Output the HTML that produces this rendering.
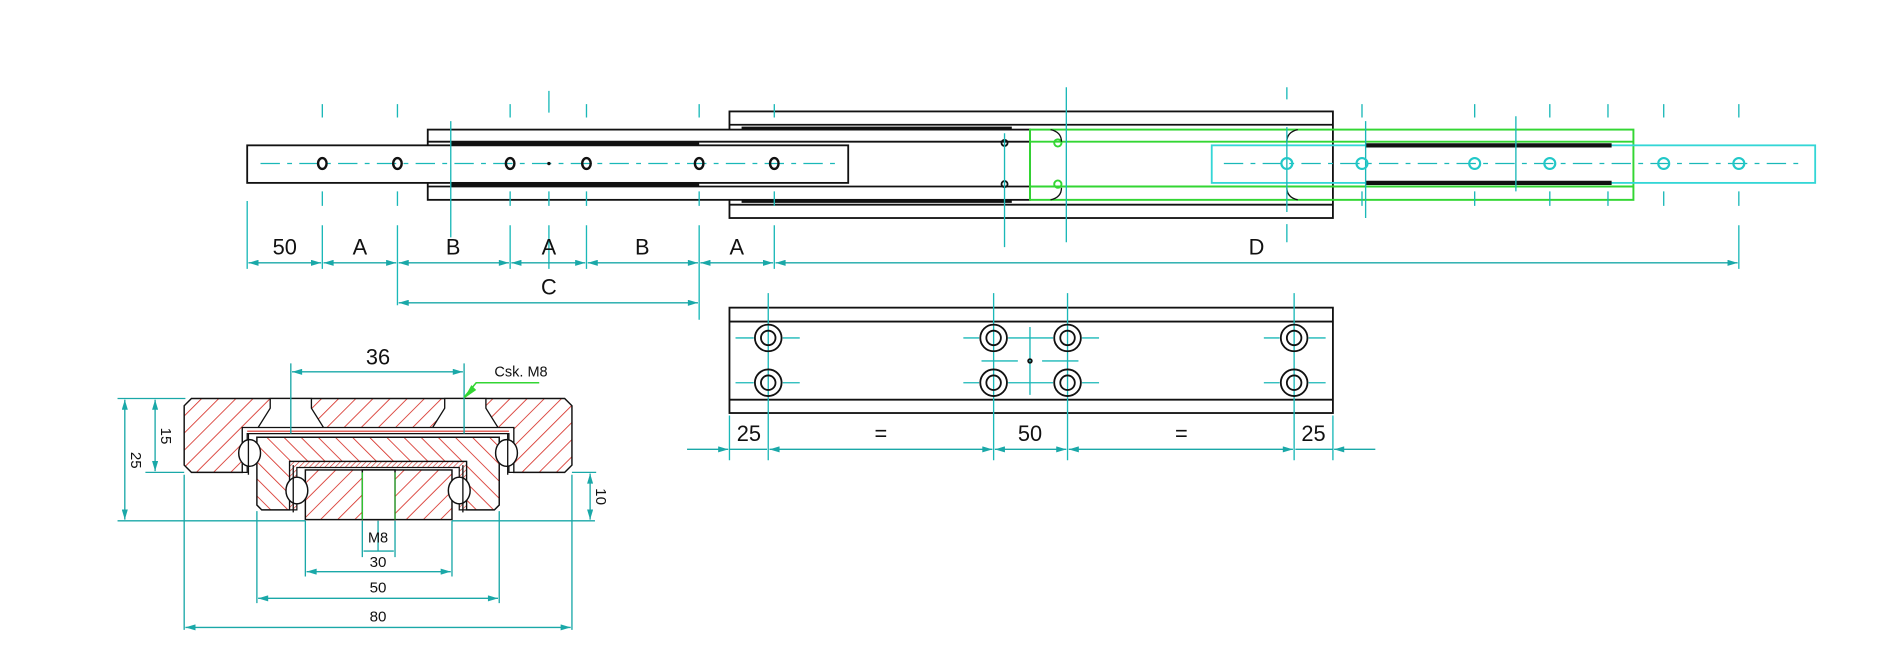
<!DOCTYPE html>
<html><head><meta charset="utf-8"><style>
html,body{margin:0;padding:0;background:#fff;}
svg{display:block;}
text{font-family:"Liberation Sans",sans-serif;fill:#111;}
</style></head><body>
<svg width="1900" height="671" viewBox="0 0 1568 554" preserveAspectRatio="none" xmlns="http://www.w3.org/2000/svg">
<defs>
<pattern id="h1" width="10" height="10" patternUnits="userSpaceOnUse" patternTransform="rotate(45)">
<rect width="10" height="10" fill="#fff"/><line x1="0" y1="0" x2="0" y2="10" stroke="#d8322a" stroke-width="1.4"/></pattern>
<pattern id="h2" width="10" height="10" patternUnits="userSpaceOnUse" patternTransform="rotate(-45)">
<rect width="10" height="10" fill="#fff"/><line x1="0" y1="0" x2="0" y2="10" stroke="#d8322a" stroke-width="1.4"/></pattern>
<pattern id="h3" width="3" height="3" patternUnits="userSpaceOnUse" patternTransform="rotate(45)">
<rect width="3" height="3" fill="#fff"/><line x1="0" y1="0" x2="0" y2="3" stroke="#d8322a" stroke-width="1"/></pattern>
<marker id="a" viewBox="0 0 10 6" refX="10" refY="3" markerWidth="11" markerHeight="5" orient="auto-start-reverse" markerUnits="userSpaceOnUse">
<path d="M0,0 L10,3 L0,6 z" fill="#1aa8a8"/></marker>
</defs>

<!-- ========== TOP VIEW ========== -->
<g fill="none" stroke="#111" stroke-width="1.5">
<rect x="602" y="92" width="498" height="88"/>
<line x1="602" y1="103" x2="1100" y2="103"/>
<line x1="602" y1="169" x2="1100" y2="169"/>
<line x1="612" y1="106" x2="835" y2="106" stroke-width="3"/>
<line x1="612" y1="166" x2="835" y2="166" stroke-width="3"/>
<rect x="353" y="107" width="497" height="58" fill="#fff"/>
<line x1="353" y1="117" x2="850" y2="117"/>
<line x1="353" y1="154" x2="850" y2="154"/>
<line x1="372" y1="119" x2="577" y2="119" stroke-width="3.5"/>
<line x1="372" y1="152" x2="577" y2="152" stroke-width="3.5"/>
<circle cx="829" cy="118" r="2.5"/><circle cx="829" cy="152" r="2.5"/>
<rect x="204" y="120" width="496" height="31" fill="#fff"/>
</g>
<g fill="none" stroke="#33d633" stroke-width="1.6">
<rect x="850" y="107" width="498" height="58"/>
<line x1="850" y1="117" x2="1348" y2="117"/>
<line x1="850" y1="154" x2="1348" y2="154"/>
<circle cx="873" cy="118" r="3"/><circle cx="873" cy="152" r="3"/>
</g>
<g fill="none" stroke="#111" stroke-width="1.1">
<path d="M867,107 q9,2 9,10"/><path d="M867,165 q9,-2 9,-10"/>
<path d="M1071,107 q-9,2 -9,10"/><path d="M1071,165 q-9,-2 -9,-10"/>
</g>
<rect x="1000" y="120" width="498" height="31" fill="none" stroke="#33d6d6" stroke-width="1.5"/>
<line x1="1127" y1="120" x2="1330" y2="120" stroke="#111" stroke-width="3.5"/>
<line x1="1127" y1="151" x2="1330" y2="151" stroke="#111" stroke-width="3.5"/>

<line x1="215" y1="135" x2="690" y2="135" stroke="#1ab8b8" stroke-width="1.1" stroke-dasharray="16,6,4,6"/>
<line x1="1010" y1="135" x2="1490" y2="135" stroke="#1ab8b8" stroke-width="1.1" stroke-dasharray="16,6,4,6"/>
<g stroke="#1ab8b8" stroke-width="1.1">
<path d="M266,86v11M266,158v12M266,186v36 M328,86v11M328,158v12M328,186v66 M421,86v11M421,158v12M421,186v36 M484,86v11M484,158v12M484,186v36 M577,86v11M577,158v12M577,186v78 M639,86v11M639,158v12M639,186v36 M453,75v18M453,158v12M453,186v36 M372,100v96 M204,166v56 M829,110v94 M880,72v128 M1062,72v10M1062,105v70M1062,185v15 M1435,86v11M1435,158v12M1435,186v36 M1373,86v11M1373,158v12 M1124,86v11M1124,158v12 M1217,86v11M1217,158v12 M1279,86v11M1279,158v12 M1327,86v11M1327,158v12 M1251,96v62 M1127,100v80"/>
</g>
<g fill="none" stroke="#111" stroke-width="2">
<ellipse cx="266" cy="135" rx="3.5" ry="4.5"/><ellipse cx="328" cy="135" rx="3.5" ry="4.5"/>
<ellipse cx="421" cy="135" rx="3.5" ry="4.5"/><ellipse cx="484" cy="135" rx="3.5" ry="4.5"/>
<ellipse cx="577" cy="135" rx="3.5" ry="4.5"/><ellipse cx="639" cy="135" rx="3.5" ry="4.5"/>
</g>
<circle cx="453" cy="135" r="1.4" fill="#111"/>
<g fill="none" stroke="#22c8c8" stroke-width="1.8">
<circle cx="1062" cy="135" r="4.5"/><circle cx="1124" cy="135" r="4.5"/><circle cx="1217" cy="135" r="4.5"/>
<circle cx="1279" cy="135" r="4.5"/><circle cx="1373" cy="135" r="4.5"/><circle cx="1435" cy="135" r="4.5"/>
</g>

<g stroke="#1aa8a8" stroke-width="1.1" fill="none">
<line x1="205" y1="217" x2="265" y2="217" marker-start="url(#a)" marker-end="url(#a)"/>
<line x1="267" y1="217" x2="327" y2="217" marker-start="url(#a)" marker-end="url(#a)"/>
<line x1="329" y1="217" x2="420" y2="217" marker-start="url(#a)" marker-end="url(#a)"/>
<line x1="422" y1="217" x2="483" y2="217" marker-start="url(#a)" marker-end="url(#a)"/>
<line x1="485" y1="217" x2="576" y2="217" marker-start="url(#a)" marker-end="url(#a)"/>
<line x1="578" y1="217" x2="638" y2="217" marker-start="url(#a)" marker-end="url(#a)"/>
<line x1="640" y1="217" x2="1434" y2="217" marker-start="url(#a)" marker-end="url(#a)"/>
<line x1="329" y1="250" x2="576" y2="250" marker-start="url(#a)" marker-end="url(#a)"/>
</g>
<g font-size="18" text-anchor="middle">
<text x="235" y="210">50</text><text x="297" y="210">A</text><text x="374" y="210">B</text>
<text x="453" y="210">A</text><text x="530" y="210">B</text><text x="608" y="210">A</text>
<text x="1037" y="210">D</text><text x="453" y="243">C</text>
</g>

<!-- ========== PLATE VIEW ========== -->
<g fill="none" stroke="#111" stroke-width="1.5">
<rect x="602" y="254" width="498" height="87"/>
<line x1="602" y1="265.5" x2="1100" y2="265.5"/>
<line x1="602" y1="330" x2="1100" y2="330"/>
</g>
<g stroke="#1ab8b8" stroke-width="1.1" fill="none">
<path d="M634,242v138 M820,242v138 M881,242v138 M1068,242v138 M602,343v37 M1100,343v37 M850,270v56"/>
<path d="M607,279h15M646,279h14 M607,316h15M646,316h14 M795,279h13M832,279h37M893,279h14 M795,316h13M832,316h37M893,316h14 M1043,279h13M1080,279h14 M1043,316h13M1080,316h14 M810,298h30M860,298h30"/>
</g>
<g fill="none" stroke="#111" stroke-width="1.5">
<circle cx="634" cy="279" r="11"/><circle cx="634" cy="279" r="6"/>
<circle cx="634" cy="316" r="11"/><circle cx="634" cy="316" r="6"/>
<circle cx="820" cy="279" r="11"/><circle cx="820" cy="279" r="6"/>
<circle cx="820" cy="316" r="11"/><circle cx="820" cy="316" r="6"/>
<circle cx="881" cy="279" r="11"/><circle cx="881" cy="279" r="6"/>
<circle cx="881" cy="316" r="11"/><circle cx="881" cy="316" r="6"/>
<circle cx="1068" cy="279" r="11"/><circle cx="1068" cy="279" r="6"/>
<circle cx="1068" cy="316" r="11"/><circle cx="1068" cy="316" r="6"/>
<circle cx="850" cy="298" r="1.5"/>
</g>
<g stroke="#1aa8a8" stroke-width="1.1" fill="none">
<line x1="567" y1="371" x2="601" y2="371" marker-end="url(#a)"/>
<line x1="635" y1="371" x2="819" y2="371" marker-start="url(#a)" marker-end="url(#a)"/>
<line x1="821" y1="371" x2="880" y2="371" marker-start="url(#a)" marker-end="url(#a)"/>
<line x1="882" y1="371" x2="1067" y2="371" marker-start="url(#a)" marker-end="url(#a)"/>
<line x1="1101" y1="371" x2="1135" y2="371" marker-start="url(#a)"/>
<line x1="602" y1="371" x2="633" y2="371"/>
<line x1="1069" y1="371" x2="1100" y2="371"/>
</g>
<g font-size="18" text-anchor="middle">
<text x="618" y="364">25</text><text x="727" y="364">=</text><text x="850" y="364">50</text>
<text x="975" y="364">=</text><text x="1084" y="364">25</text>
</g>

<!-- ========== CROSS SECTION ========== -->
<path d="M158,329 H466 L472,335 V384 L466,390 H424 V353 H200 V390 H158 L152,384 V335 Z" fill="url(#h1)" stroke="#111" stroke-width="1.2"/>
<path d="M223,329 H257 V337 L267,353 H213 L223,337 Z" fill="#fff" stroke="#111" stroke-width="1.1"/>
<path d="M367,329 H401 V337 L411,353 H357 L367,337 Z" fill="#fff" stroke="#111" stroke-width="1.1"/>
<path d="M200,353 H424 V390 H420 V358 H204 V390 H200 Z" fill="#fff" stroke="#111" stroke-width="1"/>
<path d="M204,356 H420" stroke="#d8322a" stroke-width="1"/>
<path d="M212,361 H412 V417 L408,421 H385 V381 H239 V421 H216 L212,417 Z" fill="url(#h2)" stroke="#111" stroke-width="1.2"/>
<path d="M239,381 H385 V421 H379 V386 H245 V421 H239 Z" fill="url(#h3)" stroke="#111" stroke-width="1"/>
<rect x="252" y="388" width="121" height="41" fill="url(#h1)" stroke="#111" stroke-width="1.2"/>
<rect x="299" y="388" width="27" height="41" fill="#fff" stroke="#111" stroke-width="1.2"/>
<line x1="299" y1="390" x2="299" y2="429" stroke="#33d633" stroke-width="1"/>
<line x1="326" y1="390" x2="326" y2="429" stroke="#33d633" stroke-width="0.8"/>
<g fill="#fff" stroke="#111" stroke-width="1.2">
<ellipse cx="206" cy="374" rx="9" ry="11"/><ellipse cx="418" cy="374" rx="9" ry="11"/>
<ellipse cx="245" cy="405" rx="9" ry="11"/><ellipse cx="379" cy="405" rx="9" ry="11"/>
</g>
<path d="M205,358 V392 M419,358 V392" stroke="#111" stroke-width="1.1" fill="none"/>
<path d="M242,384 V423 M382,384 V423" stroke="#111" stroke-width="1.1" fill="none"/>

<g stroke="#1aa8a8" stroke-width="1.1" fill="none">
<path d="M240,300v58 M383,300v58 M97,329h56 M120,390h32 M97,430h155 M373,430h118 M472,390h20"/>
<path d="M152,392v128 M472,392v128 M212,422v76 M412,422v76 M252,430v46 M373,430v46 M299,430v30 M326,430v30 M312,430v25"/>
<line x1="241" y1="307" x2="382" y2="307" marker-start="url(#a)" marker-end="url(#a)"/>
<line x1="103" y1="330" x2="103" y2="429" marker-start="url(#a)" marker-end="url(#a)"/>
<line x1="128" y1="330" x2="128" y2="389" marker-start="url(#a)" marker-end="url(#a)"/>
<line x1="487" y1="391" x2="487" y2="429" marker-start="url(#a)" marker-end="url(#a)"/>
<line x1="300" y1="455" x2="325" y2="455"/>
<line x1="253" y1="472" x2="372" y2="472" marker-start="url(#a)" marker-end="url(#a)"/>
<line x1="213" y1="494" x2="411" y2="494" marker-start="url(#a)" marker-end="url(#a)"/>
<line x1="153" y1="518" x2="471" y2="518" marker-start="url(#a)" marker-end="url(#a)"/>
</g>
<path d="M383,328 L393,316 H445" stroke="#33d633" stroke-width="1.3" fill="none"/>
<path d="M383,329 L389,318 L393,322 Z" fill="#33d633"/>
<text x="312" y="301" font-size="18" text-anchor="middle">36</text>
<text x="408" y="311" font-size="12" >Csk. M8</text>
<text x="312" y="448" font-size="12" text-anchor="middle">M8</text>
<text x="312" y="468" font-size="12.5" text-anchor="middle">30</text>
<text x="312" y="489" font-size="12.5" text-anchor="middle">50</text>
<text x="312" y="513" font-size="12.5" text-anchor="middle">80</text>
<text transform="translate(108,380) rotate(90)" font-size="12.5" text-anchor="middle">25</text>
<text transform="translate(133,360) rotate(90)" font-size="12.5" text-anchor="middle">15</text>
<text transform="translate(492,410) rotate(90)" font-size="12.5" text-anchor="middle">10</text>
</svg>
</body></html>
